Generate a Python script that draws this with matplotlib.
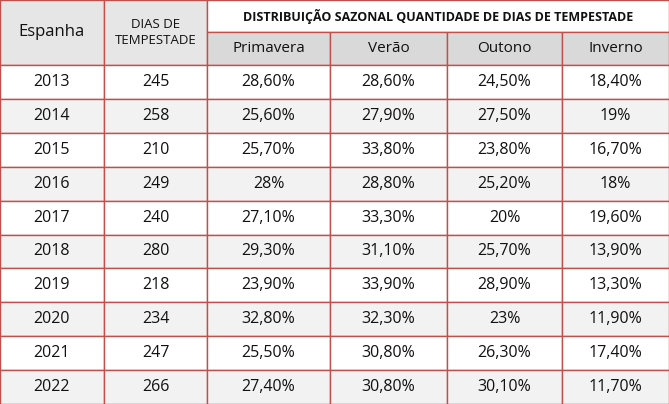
import matplotlib.pyplot as plt
from matplotlib.patches import Rectangle

years = ['2013', '2014', '2015', '2016', '2017', '2018', '2019', '2020', '2021', '2022']
storm_days = ['245', '258', '210', '249', '240', '280', '218', '234', '247', '266']
spring = ['28,60%', '25,60%', '25,70%', '28%', '27,10%', '29,30%', '23,90%', '32,80%', '25,50%', '27,40%']
summer = ['28,60%', '27,90%', '33,80%', '28,80%', '33,30%', '31,10%', '33,90%', '32,30%', '30,80%', '30,80%']
autumn = ['24,50%', '27,50%', '23,80%', '25,20%', '20%', '25,70%', '28,90%', '23%', '26,30%', '30,10%']
winter = ['18,40%', '19%', '16,70%', '18%', '19,60%', '13,90%', '13,30%', '11,90%', '17,40%', '11,70%']
seasons = ['Primavera', 'Verão', 'Outono', 'Inverno']

W, H = 669, 404
cols = [0, 104, 207, 330, 447, 562, 669]
head_mid, head_bot = 32, 65
row_h = (H - head_bot) / len(years)
border = '#c0504d'
font = 'Open Sans'

fig = plt.figure(figsize=(W / 100, H / 100), dpi=100)
ax = fig.add_axes([0, 0, 1, 1])
ax.set_xlim(0, W)
ax.set_ylim(H, 0)
ax.axis('off')

def cell(x0, x1, y0, y1, text, bg, size=11, weight='normal'):
    ax.add_patch(Rectangle((x0, y0), x1 - x0, y1 - y0, facecolor=bg,
                           edgecolor=border, linewidth=1))
    ax.text((x0 + x1) / 2, (y0 + y1) / 2, text, ha='center', va='center',
            fontsize=size, fontweight=weight, family=font, color='#111111',
            linespacing=1.25)

cell(cols[0], cols[1], 0, head_bot, 'Espanha', '#e7e6e6', 12)
cell(cols[1], cols[2], 0, head_bot, 'DIAS DE\nTEMPESTADE', '#e7e6e6', 9.5)
cell(cols[2], cols[6], 0, head_mid, 'DISTRIBUIÇÃO SAZONAL QUANTIDADE DE DIAS DE TEMPESTADE',
     '#ffffff', 9, 'bold')
for i, s in enumerate(seasons):
    cell(cols[2 + i], cols[3 + i], head_mid, head_bot, s, '#d9d9d9', 11)

for r in range(len(years)):
    y0 = head_bot + r * row_h
    bg = '#f2f2f2' if r % 2 else '#ffffff'
    vals = [years[r], storm_days[r], spring[r], summer[r], autumn[r], winter[r]]
    for c, v in enumerate(vals):
        cell(cols[c], cols[c + 1], y0, y0 + row_h, v, bg, 11.5)

fig.savefig('out.png', dpi=100)
